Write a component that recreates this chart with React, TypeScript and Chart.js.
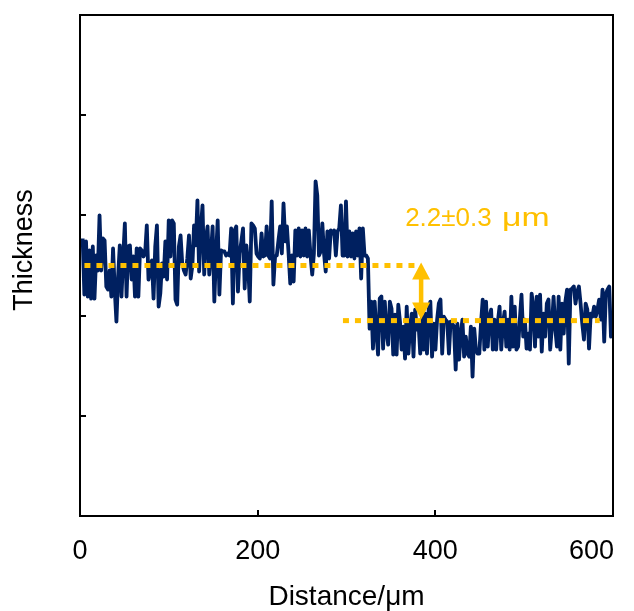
import { useEffect, useRef } from "react";
import { Chart, registerables } from "chart.js";

Chart.register(...registerables);

const FONT = '"Liberation Sans", Arial, Helvetica, sans-serif';
const NAVY = "#002060";
const GOLD = "#FFC000";

// Axis setup
const X_MIN = 0;
const X_MAX = 600;
const X_TICKS = [0, 200, 400, 600];
const Y_MIN = 0;
const Y_MAX = 5;
const Y_TICKS = [1, 2, 3, 4];

// Profile sampling (µm)
const START_UM = 3;
const STEP_UM = 1.9;

// Thickness profile (arbitrary units), in 5 segments
const thickness0to120 = [
  2.77, 2.21, 2.74, 2.19, 2.65, 2.17, 2.69, 2.17, 2.6, 2.45,
  3.0, 2.45, 2.77, 2.75, 2.29, 2.26, 2.45, 2.19, 2.67, 2.26,
  1.94, 2.39, 2.7, 2.19, 2.59, 2.92, 2.19, 2.69, 2.7, 2.36,
  2.59, 2.19, 2.67, 2.19, 2.67, 2.65, 2.59, 2.62, 2.9, 2.36,
  2.45, 2.55, 2.17, 2.69, 2.9, 2.09, 2.22, 2.52, 2.39, 2.74,
  2.36, 2.95, 2.59, 2.95, 2.92, 2.16, 2.11, 2.69, 2.8, 2.52,
  2.45,
];
const thickness120to240 = [
  2.41, 2.57, 2.8, 2.37, 2.5, 2.9, 2.7, 3.15, 2.44, 2.87,
  3.1, 2.41, 2.77, 2.89, 2.41, 2.62, 2.89, 2.14, 2.6, 2.95,
  2.21, 2.65, 2.64, 2.64, 2.6, 2.62, 2.6, 2.87, 2.12, 2.85,
  2.89, 2.24, 2.62, 2.74, 2.87, 2.27, 2.7, 2.52, 2.14, 2.92,
  2.9, 2.87, 2.62, 2.59, 2.57, 2.82, 2.59, 2.6, 2.89, 2.6,
  2.57, 3.14, 2.31, 2.59, 2.6, 2.75, 2.89, 2.62, 3.12, 2.74,
  2.89, 2.62, 2.32, 2.6,
];
const thickness240to360 = [
  2.34, 2.85, 2.6, 2.87, 2.59, 2.85, 2.6, 2.87, 2.59, 2.85,
  2.6, 2.41, 2.62, 3.34, 3.2, 2.6, 2.64, 2.92, 2.62, 2.44,
  2.84, 2.57, 2.85, 2.82, 2.85, 2.6, 2.84, 2.87, 3.1, 2.6,
  2.6, 3.14, 2.59, 2.84, 2.59, 2.82, 2.57, 2.84, 2.6, 2.87,
  2.37, 2.87, 2.6, 2.6, 2.57, 1.87, 2.14, 1.67, 2.14, 1.84,
  1.61, 2.17, 2.19, 1.67, 2.14, 1.84, 1.71, 2.14, 2.07, 1.61,
  2.01, 1.61, 2.11, 1.94,
];
const thickness360to480 = [
  1.66, 1.89, 1.57, 2.09, 1.62, 1.89, 2.02, 1.59, 2.06, 1.86,
  1.92, 1.62, 1.99, 1.66, 2.02, 1.62, 2.06, 2.14, 1.59, 1.92,
  1.66, 1.96, 2.12, 2.16, 1.62, 1.99, 1.96, 1.94, 1.62, 1.94,
  1.92, 1.89, 1.46, 1.92, 1.56, 1.82, 1.96, 1.59, 1.79, 1.62,
  1.59, 1.89, 1.39, 1.87, 1.66, 1.62, 1.62, 1.92, 2.16, 1.66,
  2.14, 1.69, 1.99, 2.06, 1.66, 1.96, 1.66, 1.94, 2.09, 1.66,
  1.92, 2.04, 1.69, 1.96,
];
const thickness480to600 = [
  1.66, 2.19, 1.69, 2.09, 1.66, 1.69, 1.96, 2.21, 1.79, 1.96,
  1.67, 1.82, 1.66, 2.22, 2.09, 1.69, 2.19, 1.79, 2.21, 1.64,
  2.02, 1.79, 2.12, 2.16, 1.66, 1.89, 2.19, 1.87, 1.69, 2.19,
  1.66, 2.12, 1.82, 2.14, 2.26, 1.52, 2.26, 2.27, 2.29, 2.12,
  2.24, 2.29, 2.12, 1.92, 1.76, 2.12, 2.06, 1.67, 2.02, 1.99,
  2.09, 1.99, 2.06, 2.16, 1.96, 2.26, 1.74, 2.22, 2.26, 2.29,
  1.79, 1.99,
];

const thickness = [
  ...thickness0to120,
  ...thickness120to240,
  ...thickness240to360,
  ...thickness360to480,
  ...thickness480to600,
];

// Reference levels (dotted guide lines)
const UPPER_LEVEL = 2.5;
const UPPER_SPAN = [5, 383];
const LOWER_LEVEL = 1.95;
const LOWER_SPAN = [296, 585];

// Step-height annotation
const ARROW_X = 384;
const ARROW_TOP = 2.53;
const ARROW_BOTTOM = 1.96;
const STEP_VALUE = "2.2±0.3";
const STEP_UNIT = "μm";
const STEP_LABEL_X = 366;
const STEP_LABEL_Y = 2.89;

const X_TITLE = "Distance/μm";
const Y_TITLE = "Thickness";

const overlayPlugin = {
  id: "overlay",
  afterDatasetsDraw(chart: any) {
    const { ctx } = chart;
    const xs = chart.scales.x;
    const ys = chart.scales.y;
    // double-headed arrow
    const ax = xs.getPixelForValue(ARROW_X);
    const yt = ys.getPixelForValue(ARROW_TOP);
    const yb = ys.getPixelForValue(ARROW_BOTTOM);
    const head = 17;
    const half = 9;
    ctx.save();
    ctx.strokeStyle = GOLD;
    ctx.fillStyle = GOLD;
    ctx.lineWidth = 4.5;
    ctx.beginPath();
    ctx.moveTo(ax, yt + head - 2);
    ctx.lineTo(ax, yb - head + 2);
    ctx.stroke();
    ctx.beginPath();
    ctx.moveTo(ax, yt);
    ctx.lineTo(ax - half, yt + head);
    ctx.lineTo(ax + half, yt + head);
    ctx.closePath();
    ctx.fill();
    ctx.beginPath();
    ctx.moveTo(ax, yb);
    ctx.lineTo(ax - half, yb - head);
    ctx.lineTo(ax + half, yb - head);
    ctx.closePath();
    ctx.fill();
    // label: value then a wider unit
    const lx = xs.getPixelForValue(STEP_LABEL_X);
    const ly = ys.getPixelForValue(STEP_LABEL_Y);
    ctx.font = `26px ${FONT}`;
    ctx.textAlign = "left";
    ctx.textBaseline = "alphabetic";
    ctx.fillText(STEP_VALUE, lx, ly);
    const vw = ctx.measureText(STEP_VALUE + " ").width;
    ctx.translate(lx + vw + 3, ly);
    ctx.scale(1.3, 1);
    ctx.fillText(STEP_UNIT, 0, 0);
    ctx.restore();
  },
  afterDraw(chart: any) {
    const { ctx, chartArea } = chart;
    const xs = chart.scales.x;
    const ys = chart.scales.y;
    const { left, right, top, bottom } = chartArea;
    ctx.save();
    ctx.strokeStyle = "#000";
    ctx.lineWidth = 2;
    ctx.strokeRect(left, top, right - left, bottom - top);
    ctx.beginPath();
    Y_TICKS.forEach((v) => {
      const y = Math.round(ys.getPixelForValue(v));
      ctx.moveTo(left, y);
      ctx.lineTo(left + 6, y);
    });
    X_TICKS.forEach((v) => {
      const x = Math.round(xs.getPixelForValue(v));
      ctx.moveTo(x, bottom);
      ctx.lineTo(x, bottom - 6);
    });
    ctx.stroke();
    // x tick labels, kept inside the plot's right edge
    ctx.fillStyle = "#000";
    ctx.font = `27px ${FONT}`;
    ctx.textAlign = "center";
    ctx.textBaseline = "alphabetic";
    X_TICKS.forEach((v) => {
      const text = String(v);
      const w = ctx.measureText(text).width;
      let x = xs.getPixelForValue(v);
      if (x + w / 2 > right + 1) x = right + 1 - w / 2;
      ctx.fillText(text, x, bottom + 43);
    });
    // y axis title
    ctx.font = `27px ${FONT}`;
    ctx.textAlign = "center";
    ctx.textBaseline = "middle";
    ctx.translate(25, 250);
    ctx.rotate(-Math.PI / 2);
    ctx.fillText(Y_TITLE, 0, 0);
    ctx.restore();
  },
};

export default function App() {
  const ref = useRef<HTMLCanvasElement | null>(null);
  useEffect(() => {
    if (!ref.current) return;
    const profile = thickness.map((v, i) => ({ x: START_UM + i * STEP_UM, y: v }));
    const upper = UPPER_SPAN.map((x) => ({ x, y: UPPER_LEVEL }));
    const lower = LOWER_SPAN.map((x) => ({ x, y: LOWER_LEVEL }));
    const chart = new Chart(ref.current, {
      type: "line",
      data: {
        datasets: [
          {
            label: "upper level",
            data: upper,
            borderColor: GOLD,
            borderWidth: 5,
            borderDash: [6, 6],
            borderCapStyle: "butt",
            pointRadius: 0,
          },
          {
            label: "lower level",
            data: lower,
            borderColor: GOLD,
            borderWidth: 5,
            borderDash: [6, 6],
            borderCapStyle: "butt",
            pointRadius: 0,
          },
          {
            label: "Thickness",
            data: profile,
            borderColor: NAVY,
            borderWidth: 3.8,
            borderJoinStyle: "round",
            tension: 0,
            pointRadius: 0,
          },
        ],
      },
      options: {
        responsive: false,
        animation: false,
        devicePixelRatio: 1,
        layout: { padding: { top: 15, right: 21, left: 0, bottom: 0 } },
        plugins: { legend: { display: false }, tooltip: { enabled: false } },
        scales: {
          x: {
            type: "linear",
            min: X_MIN,
            max: X_MAX,
            afterFit: (s: any) => {
              s.height = 95;
              s.paddingLeft = 0;
              s.paddingRight = 0;
            },
            afterBuildTicks: (s: any) => {
              s.ticks = X_TICKS.map((value) => ({ value }));
            },
            grid: { display: false, drawTicks: false },
            border: { display: false },
            ticks: { display: false },
            title: {
              display: true,
              text: X_TITLE,
              color: "#000",
              font: { family: FONT, size: 28, lineHeight: 1 },
              padding: { top: 0, bottom: 0 },
            },
          },
          y: {
            type: "linear",
            min: Y_MIN,
            max: Y_MAX,
            afterFit: (s: any) => {
              s.width = 80;
              s.paddingTop = 0;
              s.paddingBottom = 0;
            },
            grid: { display: false, drawTicks: false },
            border: { display: false },
            ticks: { display: false },
          },
        },
      },
      plugins: [overlayPlugin],
    });
    return () => chart.destroy();
  }, []);
  return (
    <div style={{ position: "absolute", left: 0, top: 0, width: 634, height: 611, background: "#fff" }}>
      <canvas ref={ref} width={634} height={611} style={{ display: "block" }} />
    </div>
  );
}
